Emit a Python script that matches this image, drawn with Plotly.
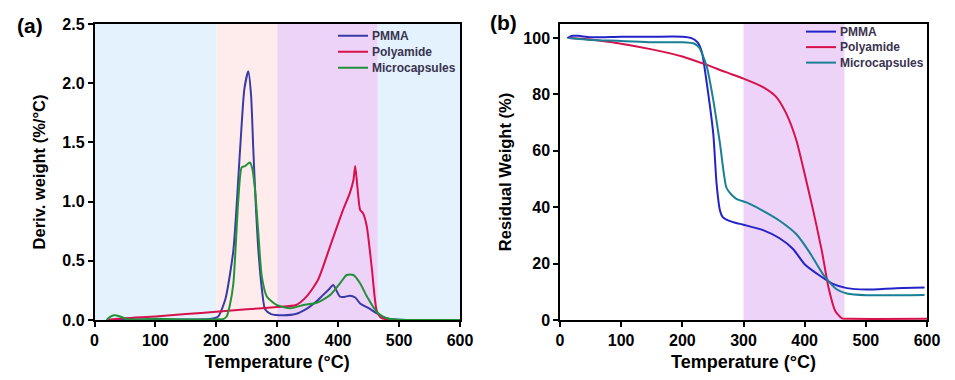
import plotly.graph_objects as go

# ---- Panel (a): DTG curves ----
pmma_dtg_x = [20, 50, 100, 150, 190, 203, 215, 228, 239, 246, 252.5, 257, 260.7, 265, 269, 275, 280, 290, 310, 330, 350, 365, 375, 385, 392, 398, 403, 410, 419, 428, 436, 450, 463, 475, 483, 500, 600]
pmma_dtg_y = [0.0, 0.005, 0.005, 0.005, 0.008, 0.03, 0.18, 0.59, 1.44, 1.95, 2.10, 1.90, 1.44, 0.95, 0.59, 0.25, 0.09, 0.05, 0.04, 0.05, 0.10, 0.16, 0.21, 0.26, 0.296, 0.24, 0.197, 0.195, 0.205, 0.19, 0.14, 0.10, 0.057, 0.025, 0.01, 0.002, 0.0]

pa_dtg_x = [20, 50, 100, 150, 200, 250, 300, 331, 348, 367, 386.6, 408, 419, 425, 428, 432, 436, 441, 447, 455, 463, 470, 480, 600]
pa_dtg_y = [0.0, 0.015, 0.03, 0.05, 0.07, 0.09, 0.11, 0.127, 0.197, 0.34, 0.62, 0.93, 1.07, 1.18, 1.30, 1.10, 0.93, 0.90, 0.79, 0.45, 0.085, 0.02, 0.005, 0.0]

mc_dtg_x = [20, 25, 33, 42, 55, 100, 150, 200, 212, 217, 222, 228, 236, 241.6, 247, 255, 259, 263.5, 269, 274.5, 283, 299, 321, 343, 365, 386.6, 403, 414, 425, 436, 447, 463, 475, 483, 500, 600]
mc_dtg_y = [0.0, 0.025, 0.04, 0.03, 0.005, 0.01, 0.005, 0.005, 0.01, 0.03, 0.12, 0.31, 1.01, 1.29, 1.30, 1.33, 1.28, 1.10, 0.73, 0.37, 0.197, 0.127, 0.099, 0.127, 0.146, 0.21, 0.31, 0.38, 0.38, 0.31, 0.20, 0.07, 0.025, 0.01, 0.002, 0.0]

# ---- Panel (b): TGA curves ----
pmma_tga_x = [12, 20, 30, 50, 100, 150, 200, 215, 225, 232, 240, 250.6, 256, 261.6, 266, 272, 285, 300, 332, 359, 381, 400, 425, 447, 469, 501, 550, 596]
pmma_tga_y = [100.0, 100.8, 100.8, 100.3, 100.5, 100.5, 100.5, 100.0, 98.5, 95.0, 83.9, 66.0, 48.3, 38.8, 36.5, 35.6, 34.6, 33.8, 31.9, 29.0, 25.2, 19.8, 15.7, 12.7, 11.3, 10.8, 11.3, 11.5]

pa_tga_x = [15, 50, 100, 150, 200, 240, 270, 300, 332, 354, 370, 386.5, 400, 414, 428, 439, 450, 461, 475, 600]
pa_tga_y = [100.0, 99.5, 98.0, 96.0, 93.5, 90.5, 88.0, 85.6, 82.6, 79.0, 73.2, 63.7, 51.8, 38.8, 24.6, 11.5, 3.2, 0.6, 0.4, 0.4]

mc_tga_x = [15, 50, 100, 150, 200, 220, 228, 234, 240, 250.6, 261.6, 272, 280, 289, 305, 332, 359, 386.5, 408, 430, 452, 469, 501, 596]
mc_tga_y = [100.0, 99.3, 99.0, 98.5, 98.5, 98.0, 96.5, 93.5, 89.8, 78.0, 62.5, 47.0, 44.5, 42.9, 41.7, 38.7, 35.2, 30.4, 24.0, 16.2, 10.9, 9.4, 8.8, 8.9]

series_names = ["PMMA", "Polyamide", "Microcapsules"]
colors_a = ["#3a3aa6", "#d6114b", "#23913b"]
colors_b = ["#2323c8", "#d6114b", "#1a7f96"]

x_ticks = [0, 100, 200, 300, 400, 500, 600]
ya_ticks = [0.0, 0.5, 1.0, 1.5, 2.0, 2.5]
yb_ticks = [0, 20, 40, 60, 80, 100]

W, H = 955, 380
OFF = 8  # page body margin offset


def px_x(p):
    return (p - OFF) / W


def px_y(p):
    return 1 - (p - OFF) / H


fig = go.Figure()

dtg = [(pmma_dtg_x, pmma_dtg_y), (pa_dtg_x, pa_dtg_y), (mc_dtg_x, mc_dtg_y)]
tga = [(pmma_tga_x, pmma_tga_y), (pa_tga_x, pa_tga_y), (mc_tga_x, mc_tga_y)]

for (xs, ys), name, c in zip(dtg, series_names, colors_a):
    fig.add_trace(go.Scatter(x=xs, y=ys, mode="lines", name=name, showlegend=False,
                             line=dict(color=c, width=2, shape="spline", smoothing=0.6),
                             xaxis="x", yaxis="y"))
for (xs, ys), name, c in zip(tga, series_names, colors_b):
    fig.add_trace(go.Scatter(x=xs, y=ys, mode="lines", name=name, showlegend=False,
                             line=dict(color=c, width=2, shape="spline", smoothing=0.6),
                             xaxis="x2", yaxis="y2"))

# Background bands
bands_a = [(0, 200, "#e3f2fc"), (200, 300, "#fdeceb"), (300, 465, "#eed3f8"), (465, 600, "#e3f2fc")]
for x0, x1, c in bands_a:
    fig.add_shape(type="rect", xref="x", yref="y", x0=x0, x1=x1, y0=0, y1=2.5,
                  fillcolor=c, line_width=0, layer="below")
fig.add_shape(type="rect", xref="x2", yref="y2", x0=300, x1=465, y0=0, y1=105,
              fillcolor="#eed3f8", line_width=0, layer="below")

# Legends drawn manually (line sample + label)
leg_a_y = [2.40, 2.265, 2.13]
leg_b_y = [102.3, 96.8, 91.3]
for i, name in enumerate(series_names):
    fig.add_shape(type="line", xref="x", yref="y", x0=(338-94.5)*600/365.5, x1=(368-94.5)*600/365.5,
                  y0=leg_a_y[i], y1=leg_a_y[i], line=dict(color=colors_a[i], width=2))
    fig.add_annotation(xref="x", yref="y", x=(370-94.5)*600/365.5, y=leg_a_y[i], text="<b>%s</b>" % name,
                       showarrow=False, xanchor="left", yanchor="middle",
                       font=dict(family="Arial, Liberation Sans", size=12, color="#3a3350"))
    fig.add_shape(type="line", xref="x2", yref="y2", x0=(806-560)*600/367, x1=(836-560)*600/367,
                  y0=leg_b_y[i], y1=leg_b_y[i], line=dict(color=colors_b[i], width=2))
    fig.add_annotation(xref="x2", yref="y2", x=(838-560)*600/367, y=leg_b_y[i], text="<b>%s</b>" % name,
                       showarrow=False, xanchor="left", yanchor="middle",
                       font=dict(family="Arial, Liberation Sans", size=12, color="#3a3350"))

tickfont = dict(family="Arial, Liberation Sans", size=16, color="black")
xtitlefont = dict(family="Arial, Liberation Sans", size=18, color="black")
ytitlefont = dict(family="Arial, Liberation Sans", size=16.5, color="black")
axis_common = dict(showline=True, linecolor="black", linewidth=1.5, mirror=True,
                   ticks="outside", ticklen=5, tickwidth=1.5, tickcolor="black",
                   showgrid=False, zeroline=False, tickfont=tickfont, automargin=False)

ydom = [px_y(320), px_y(24)]
fig.update_layout(
    width=W, height=H,
    margin=dict(l=0, r=0, t=0, b=0),
    paper_bgcolor="white", plot_bgcolor="white",
    xaxis=dict(domain=[px_x(94.5), px_x(460)], range=[0, 600], tickvals=x_ticks,
               ticktext=["<b>%d</b>" % v for v in x_ticks],
               title=dict(text="<b>Temperature (°C)</b>", font=xtitlefont, standoff=7), anchor="y", **axis_common),
    yaxis=dict(domain=ydom, range=[0, 2.5], tickvals=ya_ticks,
               ticktext=["<b>%.1f</b>" % v for v in ya_ticks],
               title=dict(text="<b>Deriv. weight (%/°C)</b>", font=ytitlefont, standoff=13), anchor="x", **axis_common),
    xaxis2=dict(domain=[px_x(560), px_x(927)], range=[0, 600], tickvals=x_ticks,
                ticktext=["<b>%d</b>" % v for v in x_ticks],
                title=dict(text="<b>Temperature (°C)</b>", font=xtitlefont, standoff=7), anchor="y2", **axis_common),
    yaxis2=dict(domain=ydom, range=[0, 105], tickvals=yb_ticks,
                ticktext=["<b>%d</b>" % v for v in yb_ticks],
                title=dict(text="<b>Residual Weight (%)</b>", font=ytitlefont, standoff=8), anchor="x2", **axis_common),
)

fig.add_annotation(xref="paper", yref="paper", x=px_x(30), y=px_y(25), text="<b>(a)</b>", showarrow=False,
                   xanchor="center", yanchor="middle", font=dict(family="Arial, Liberation Sans", size=21, color="black"))
fig.add_annotation(xref="paper", yref="paper", x=px_x(503), y=px_y(22), text="<b>(b)</b>", showarrow=False,
                   xanchor="center", yanchor="middle", font=dict(family="Arial, Liberation Sans", size=21, color="black"))

fig.write_html("out.html")
